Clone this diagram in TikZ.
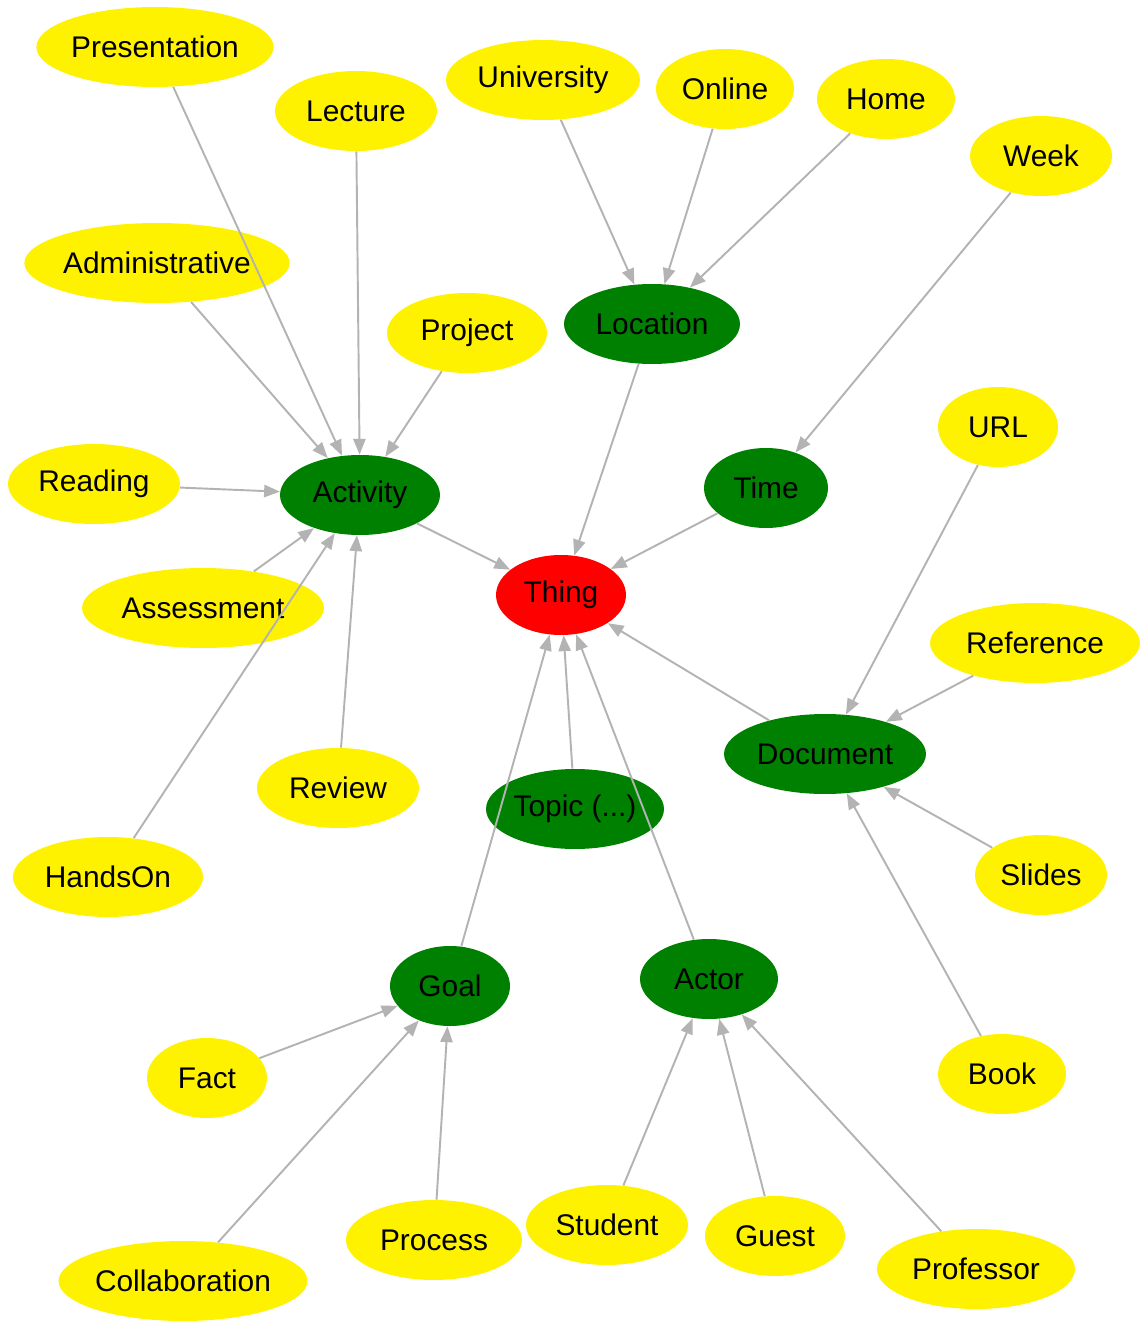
\documentclass[tikz,border=0pt]{standalone}
\usepackage{fontspec}
\setmainfont{Liberation Sans}
\usetikzlibrary{shapes.geometric,arrows.meta}
\definecolor{edgegray}{HTML}{B3B3B3}
\definecolor{clsgreen}{HTML}{008000}
\tikzset{
  kind/.style={ellipse,draw=none,inner sep=0pt,minimum height=1.6cm,minimum width=#1,
    font=\fontsize{17}{20}\selectfont},
  leaf/.style={kind=#1,fill=yellow},
  cls/.style={kind=#1,fill=clsgreen},
  link/.style={draw=edgegray,line width=1.1pt,-{Triangle[length=9pt,width=7pt]}}
}
\begin{document}
\begin{tikzpicture}[x=0.02cm,y=-0.02cm]
\useasboundingbox (0,0) rectangle (1142,1321);
% central node and classes
\node[kind=2.6cm,fill=red] (thing) at (561,595) {Thing};
\node[cls=3.52cm] (location) at (652,324) {Location};
\node[cls=3.2cm] (activity) at (360,495) {Activity};
\node[cls=2.48cm] (time) at (766,488) {Time};
\node[cls=4.04cm] (document) at (825,754) {Document};
\node[cls=3.56cm] (topic) at (575,809) {Topic (...)};
\node[cls=2.4cm] (goal) at (450,986) {Goal};
\node[cls=2.76cm] (actor) at (709,979) {Actor};
% leaves
\node[leaf=4.72cm] (presentation) at (155,47) {Presentation};
\node[leaf=3.24cm] (lecture) at (356,111) {Lecture};
\node[leaf=3.88cm] (university) at (543,80) {University};
\node[leaf=2.76cm] (online) at (725,89) {Online};
\node[leaf=2.76cm] (home) at (886,99) {Home};
\node[leaf=2.84cm] (week) at (1041,156) {Week};
\node[leaf=5.2cm] (administrative) at (157,263) {Administrative};
\node[leaf=3.2cm] (project) at (467,333) {Project};
\node[leaf=3.44cm] (reading) at (94,484) {Reading};
\node[leaf=4.84cm] (assessment) at (203,608) {Assessment};
\node[leaf=2.4cm] (url) at (998,427) {URL};
\node[leaf=4.2cm] (reference) at (1035,643) {Reference};
\node[leaf=3.24cm] (review) at (338,788) {Review};
\node[leaf=3.8cm] (handson) at (108,877) {HandsOn};
\node[leaf=2.64cm] (slides) at (1041,875) {Slides};
\node[leaf=2.4cm] (fact) at (207,1078) {Fact};
\node[leaf=2.56cm] (book) at (1002,1074) {Book};
\node[leaf=3.52cm] (process) at (434,1240) {Process};
\node[leaf=3.24cm] (student) at (607,1225) {Student};
\node[leaf=2.8cm] (guest) at (775,1236) {Guest};
\node[leaf=3.96cm] (professor) at (976,1269) {Professor};
\node[leaf=4.84cm] (collaboration) at (183,1281) {Collaboration};
% connectors
\foreach \s in {presentation,lecture,administrative,project,reading,assessment,handson,review}
  \draw[link] (\s) -- (activity);
\foreach \s in {university,online,home}
  \draw[link] (\s) -- (location);
\draw[link] (week) -- (time);
\foreach \s in {url,reference,slides,book}
  \draw[link] (\s) -- (document);
\foreach \s in {fact,collaboration,process}
  \draw[link] (\s) -- (goal);
\foreach \s in {student,guest,professor}
  \draw[link] (\s) -- (actor);
\foreach \s in {activity,location,time,document,topic,goal,actor}
  \draw[link] (\s) -- (thing);
\end{tikzpicture}
\end{document}
